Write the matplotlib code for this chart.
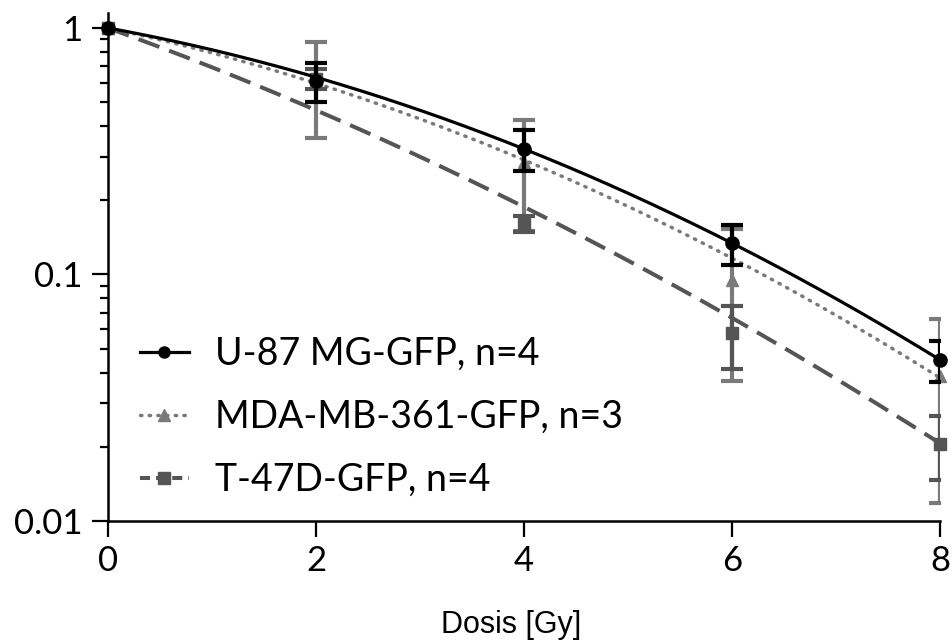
import numpy as np
import matplotlib.pyplot as plt
from matplotlib.lines import Line2D

# dose in Gy
dose = [0, 2, 4, 6, 8]

# surviving fraction and error
u87_sf = [1.0, 0.611, 0.323, 0.134, 0.045]
u87_err = [0.0, 0.109, 0.061, 0.025, 0.0085]
mda_sf = [1.0, 0.617, 0.287, 0.095, 0.0388]
mda_err = [0.0, 0.258, 0.137, 0.058, 0.027]
t47d_sf = [1.0, 0.622, 0.161, 0.058, 0.0206]
t47d_err = [0.0, 0.058, 0.012, 0.0165, 0.006]

# linear-quadratic fit parameters (alpha, beta)
u87_fit = (0.1775, 0.02625)
mda_fit = (0.208, 0.02506)
t47d_fit = (0.3505, 0.0168)

labels = ['U-87 MG-GFP, n=4', 'MDA-MB-361-GFP, n=3', 'T-47D-GFP, n=4']

tick_font = 'Lato'
black = '#000000'
light = '#7a7a7a'
dark = '#555555'

fig = plt.figure(figsize=(9.52, 6.41), dpi=100)
ax = fig.add_axes([0.1134, 0.1872, 0.874, 0.7925])

d = np.linspace(0, 8, 200)

def lq(p):
    return np.exp(-p[0] * d - p[1] * d ** 2)

# fit curves
ax.plot(d, lq(t47d_fit), color=dark, lw=2.9, dashes=(5.5, 2.6), zorder=2)
ax.plot(d, lq(mda_fit), color=light, lw=2.5, dashes=(0.4, 2.1),
        dash_capstyle='round', zorder=2)
ax.plot(d, lq(u87_fit), color=black, lw=2.3, zorder=4)

# error bars (skip the 0 Gy normalisation point)
ax.errorbar(dose[1:], mda_sf[1:], yerr=mda_err[1:], fmt='none', ecolor=light,
            elinewidth=3, capsize=8, capthick=3, zorder=3)
ax.errorbar(dose[1:], t47d_sf[1:], yerr=t47d_err[1:], fmt='none', ecolor=dark,
            elinewidth=3, capsize=8, capthick=3, zorder=3.5)
ax.errorbar(dose[1:], u87_sf[1:], yerr=u87_err[1:], fmt='none', ecolor=black,
            elinewidth=3, capsize=8, capthick=3, zorder=5)

# data points
ax.plot(dose, mda_sf, '^', color=light, ms=8, ls='none', zorder=3.2, clip_on=False)
ax.plot(dose, t47d_sf, 's', color=dark, ms=8.5, ls='none', zorder=3.6, clip_on=False)
ax.plot(dose, u87_sf, 'o', color=black, ms=9.5, ls='none', zorder=6, clip_on=False)

ax.set_yscale('log')
ax.set_xlim(0, 8)
ax.set_ylim(0.01, 1.15)
ax.set_xticks(dose)
ax.set_yticks([0.01, 0.1, 1])
ax.set_yticklabels(['0.01', '0.1', '1'])

for s in ['top', 'right']:
    ax.spines[s].set_visible(False)
for s in ['left', 'bottom']:
    ax.spines[s].set_linewidth(1.8)

ax.tick_params(which='major', length=11.5, width=1.6, labelsize=25)
ax.tick_params(axis='y', which='major', pad=7)
ax.tick_params(axis='x', which='major', pad=6)
ax.tick_params(which='minor', length=5.8, width=1.6)
ax.tick_params(axis='x', which='minor', bottom=False)
for lab in ax.get_xticklabels() + ax.get_yticklabels():
    lab.set_fontfamily(tick_font)

ax.set_xlabel('Dosis [Gy]', fontsize=22, family='Liberation Sans')
ax.xaxis.set_label_coords(0.485, -0.175)

handles = [
    Line2D([], [], color=black, lw=2.3, marker='o', ms=8),
    Line2D([], [], color=light, lw=2.5, dashes=(0.4, 2.1), dash_capstyle='round',
           marker='^', ms=8),
    Line2D([], [], color=dark, lw=2.9, dashes=(2.5, 1.5), marker='s', ms=8),
]
leg = ax.legend(handles, labels, loc='lower left', bbox_to_anchor=(0.0385, 0.045),
                frameon=False, borderpad=0, borderaxespad=0,
                handlelength=1.3, handletextpad=0.7,
                labelspacing=0.72, prop={'family': tick_font, 'size': 27})

fig.savefig('out.png', dpi=100)
